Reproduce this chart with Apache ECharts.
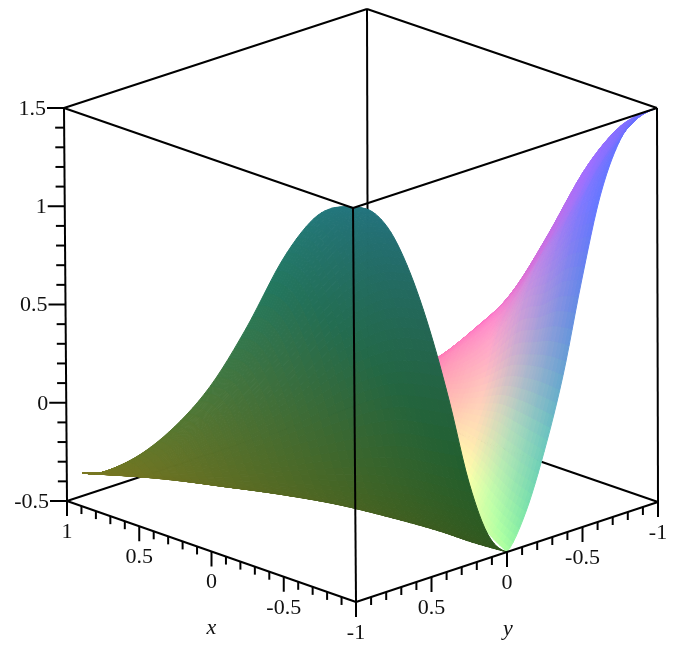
<!DOCTYPE html>
<html>
<head>
<meta charset="utf-8">
<style>
html, body { margin: 0; padding: 0; background: #fff; }
#chart { width: 685px; height: 652px; }
</style>
</head>
<body>
<div id="chart"></div>
<script src="https://cdn.jsdelivr.net/npm/echarts@6/dist/echarts.min.js"></script>
<script type="text/javascript">
// tick labels
var xTicks = ['1', '0.5', '0', '-0.5', '-1'];
var yTicks = ['1', '0.5', '0', '-0.5', '-1'];
var zTicks = ['1.5', '1', '0.5', '0', '-0.5'];
var minorSteps = [-0.9, -0.8, -0.7, -0.6, -0.4, -0.3, -0.2, -0.1, 0.1, 0.2, 0.3, 0.4, 0.6, 0.7, 0.8, 0.9];
var zMinorSteps = [-0.4, -0.3, -0.2, -0.1, 0.1, 0.2, 0.3, 0.4, 0.6, 0.7, 0.8, 0.9, 1.1, 1.2, 1.3, 1.4];

// surface grid
var xRows = [-1, -0.85, -0.7, -0.5, -0.25, 0, 0.25, 0.5, 0.75, 0.89];
var hillLow = [0, 0.079, 0.159, 0.265, 0.397, 0.529, 0.661, 0.794, 0.926, 1];
var brightLow = [0, 0.04, 0.09, 0.2, 0.33, 0.48, 0.62, 0.78, 0.92, 1];
var columnSteps = [0, 0.125, 0.25, 0.375, 0.5, 0.625, 0.75, 0.875, 1];

// y > 0 part (the dark hill)
var hillZ = [
    [-0.5, -0.38, -0.08, 0.36, 0.75, 1.07, 1.31, 1.45, 1.5],
    [-0.47, -0.35, -0.07, 0.36, 0.74, 1.05, 1.28, 1.41, 1.46],
    [-0.43, -0.32, -0.06, 0.34, 0.68, 0.97, 1.18, 1.31, 1.35],
    [-0.39, -0.3, -0.08, 0.25, 0.54, 0.78, 0.96, 1.06, 1.1],
    [-0.35, -0.29, -0.13, 0.1, 0.3, 0.47, 0.6, 0.67, 0.695],
    [-0.33, -0.29, -0.19, -0.04, 0.09, 0.2, 0.28, 0.32, 0.34],
    [-0.32, -0.3, -0.24, -0.15, -0.08, -0.01, 0.03, 0.06, 0.07],
    [-0.315, -0.3, -0.28, -0.24, -0.21, -0.18, -0.16, -0.145, -0.14],
    [-0.32, -0.32, -0.31, -0.31, -0.3, -0.3, -0.295, -0.29, -0.29],
    [-0.33, -0.33, -0.33, -0.33, -0.33, -0.33, -0.33, -0.33, -0.33]
];
// y < 0 part (the bright one)
var brightZ = [
    [-0.5, -0.33, -0.05, 0.3, 0.75, 1.15, 1.39, 1.49, 1.5],
    [-0.47, -0.31, -0.045, 0.29, 0.7, 1.05, 1.22, 1.33, 1.42],
    [-0.43, -0.28, -0.04, 0.26, 0.6, 0.88, 1.03, 1.18, 1.3],
    [-0.39, -0.27, -0.06, 0.19, 0.5, 0.68, 0.79, 0.92, 1.06],
    [-0.35, -0.26, -0.12, 0.05, 0.26, 0.38, 0.47, 0.56, 0.67],
    [-0.33, -0.28, -0.19, -0.07, 0.07, 0.17, 0.23, 0.27, 0.31],
    [-0.32, -0.29, -0.23, -0.16, -0.08, -0.01, 0.03, 0.05, 0.07],
    [-0.315, -0.3, -0.28, -0.245, -0.205, -0.17, -0.155, -0.145, -0.14],
    [-0.32, -0.32, -0.31, -0.31, -0.3, -0.3, -0.29, -0.29, -0.29],
    [-0.33, -0.33, -0.33, -0.33, -0.33, -0.33, -0.33, -0.33, -0.33]
];

// where the corners of the box land on the page
var boxFloor = { front: [356, 602], left: [67, 501], right: [658, 502], back: [368, 402] };
var boxTop = { front: [353, 208], left: [64, 108], right: [657, 108], back: [367, 9] };

function mix(a, b, t) {
    return a + (b - a) * t;
}

// x, y, z of the plot to page position
function project(x, y, z) {
    var s = (x + 1) / 2, t = (1 - y) / 2, r = (z + 0.5) / 2;
    var out = [];
    for (var k = 0; k < 2; k++) {
        var low = mix(mix(boxFloor.front[k], boxFloor.left[k], s), mix(boxFloor.right[k], boxFloor.back[k], s), t);
        var high = mix(mix(boxTop.front[k], boxTop.left[k], s), mix(boxTop.right[k], boxTop.back[k], s), t);
        out.push(mix(low, high, r));
    }
    return out;
}

function curve(a, b, c, d, t) {
    return 0.5 * (2 * b + (c - a) * t + (2 * a - 5 * b + 4 * c - d) * t * t + (3 * b - a - 3 * c + d) * t * t * t);
}

function pick(list, i) {
    return list[Math.max(0, Math.min(list.length - 1, i))];
}

function along(list, i, t) {
    return curve(pick(list, i - 1), list[i], pick(list, i + 1), pick(list, i + 2), t);
}

// smooth read of the grid, only used to draw each cell without facets
function readZ(grid, i, j, u, v) {
    var rows = [];
    for (var a = -1; a <= 2; a++) {
        rows.push(along(pick(grid, i + a), j, v));
    }
    return curve(rows[0], rows[1], rows[2], rows[3], u);
}

function readPoint(lobe, i, j, u, v) {
    var x = along(xRows, i, u);
    var low = along(lobe == 1 ? brightLow : hillLow, i, u);
    var step = mix(columnSteps[j], columnSteps[j + 1], v);
    var y = low + step * (1 - low);
    if (lobe == 1) y = -y;
    return [x, y, readZ(lobe == 1 ? brightZ : hillZ, i, j, u, v)];
}

function clamp(c) {
    return Math.round(Math.max(0, Math.min(255, c)));
}

function shade(lobe, p) {
    var r, g, b;
    if (lobe == 1) {
        var near = 1 - Math.abs(p[1]);
        var fade = 1 - 0.7 * Math.max(0, Math.min(1, p[2]));
        r = 100 + 130 * (p[0] + 1) + 180 * (p[0] + 1) * near + 70 * Math.pow(near, 8);
        g = 110 + (145 * Math.pow(near, 1.6) + 150 * (p[0] + 1) * near) * fade;
        b = 160 + 60 * (p[2] + 0.5);
    } else {
        r = Math.max(35, 35 + 42 * (p[0] + 1) - 28 * p[2]);
        g = 85 + 35 * p[1];
        b = 30 + 40 * Math.pow(p[2] + 0.5, 1.3);
    }
    return 'rgb(' + clamp(r) + ',' + clamp(g) + ',' + clamp(b) + ')';
}

var pieces = 6;

function renderCell(params, api) {
    var lobe = api.value(0), i = api.value(1), j = api.value(2);
    var children = [];
    for (var a = 0; a < pieces; a++) {
        for (var b = 0; b < pieces; b++) {
            var u0 = a / pieces, u1 = (a + 1) / pieces, v0 = b / pieces, v1 = (b + 1) / pieces;
            var corners = [[u0, v0], [u1, v0], [u1, v1], [u0, v1]];
            var points = corners.map(function (c) {
                var p = readPoint(lobe, i, j, c[0], c[1]);
                return api.coord(project(p[0], p[1], p[2]));
            });
            var colour = shade(lobe, readPoint(lobe, i, j, (u0 + u1) / 2, (v0 + v1) / 2));
            children.push({
                type: 'polygon',
                shape: { points: points },
                style: { fill: colour, stroke: colour, lineWidth: 1 }
            });
        }
    }
    return { type: 'group', children: children };
}

function cells(lobe) {
    var out = [];
    for (var i = xRows.length - 2; i >= 0; i--) {
        for (var j = 0; j < 8; j++) {
            out.push([lobe, i, lobe == 1 ? 7 - j : j]);
        }
    }
    return out;
}

function renderLine(params, api) {
    var a = api.coord([api.value(0), api.value(1)]);
    var b = api.coord([api.value(2), api.value(3)]);
    return {
        type: 'line',
        shape: { x1: a[0], y1: a[1], x2: b[0], y2: b[1] },
        style: { stroke: '#000', lineWidth: api.value(4) }
    };
}

function edge(a, b, width) {
    return [a[0], a[1], b[0], b[1], width];
}

var backLines = [
    edge(boxFloor.left, boxFloor.back, 2),
    edge(boxFloor.right, boxFloor.back, 2),
    edge(boxFloor.back, boxTop.back, 2)
];

var frontLines = [
    edge(boxTop.left, boxTop.back, 2),
    edge(boxTop.right, boxTop.back, 2),
    edge(boxTop.left, boxTop.front, 2),
    edge(boxTop.right, boxTop.front, 2),
    edge(boxFloor.left, boxFloor.front, 2),
    edge(boxFloor.right, boxFloor.front, 2),
    edge(boxFloor.left, boxTop.left, 2),
    edge(boxFloor.front, boxTop.front, 2),
    edge(boxFloor.right, boxTop.right, 2)
];

var textItems = [];

function addDown(p, len) {
    frontLines.push([p[0], p[1], p[0], p[1] + len, 2]);
}

function addLeft(p, len) {
    frontLines.push([p[0] - len, p[1], p[0], p[1], 2]);
}

xTicks.forEach(function (label) {
    var p = project(Number(label), 1, -0.5);
    addDown(p, 15);
    textItems.push([p[0], p[1] + 31, label, 'center', 'normal']);
});
yTicks.forEach(function (label) {
    var p = project(-1, Number(label), -0.5);
    if (label != '1') {
        addDown(p, 15);
        textItems.push([p[0], p[1] + 31, label, 'center', 'normal']);
    }
});
minorSteps.forEach(function (v) {
    addDown(project(v, 1, -0.5), 8);
    addDown(project(-1, v, -0.5), 8);
});
zTicks.forEach(function (label) {
    var p = project(1, 1, Number(label));
    addLeft(p, 17);
    textItems.push([p[0] - 18, p[1] + 1, label, 'right', 'normal']);
});
zMinorSteps.forEach(function (v) {
    addLeft(project(1, 1, v), 9);
});
var xTitle = project(0, 1, -0.5), yTitle = project(-1, 0, -0.5);
textItems.push([xTitle[0], xTitle[1] + 77, 'x', 'center', 'italic']);
textItems.push([yTitle[0] + 1, yTitle[1] + 77, 'y', 'center', 'italic']);

function renderText(params, api) {
    var p = api.coord([api.value(0), api.value(1)]);
    var item = textItems[params.dataIndex];
    return {
        type: 'text',
        style: {
            x: p[0],
            y: p[1],
            text: item[2],
            align: item[3],
            verticalAlign: 'middle',
            fill: '#111',
            font: item[4] + ' 22px "Liberation Serif", serif'
        }
    };
}

var myChart = echarts.init(document.getElementById('chart'), null, { renderer: 'canvas' });

var option = {
    backgroundColor: '#fff',
    animation: false,
    grid: { left: 0, right: 0, top: 0, bottom: 0 },
    xAxis: { type: 'value', min: 0, max: 685, show: false },
    yAxis: { type: 'value', min: 0, max: 652, inverse: true, show: false },
    series: [
        { type: 'custom', coordinateSystem: 'cartesian2d', silent: true, clip: false, z: 1, renderItem: renderLine, data: backLines },
        { type: 'custom', coordinateSystem: 'cartesian2d', silent: true, clip: false, z: 2, renderItem: renderCell, data: cells(1) },
        { type: 'custom', coordinateSystem: 'cartesian2d', silent: true, clip: false, z: 3, renderItem: renderCell, data: cells(0) },
        { type: 'custom', coordinateSystem: 'cartesian2d', silent: true, clip: false, z: 4, renderItem: renderLine, data: frontLines },
        { type: 'custom', coordinateSystem: 'cartesian2d', silent: true, clip: false, z: 5, renderItem: renderText,
          data: textItems.map(function (t) { return [t[0], t[1]]; }) }
    ]
};
myChart.setOption(option);
</script>
</body>
</html>
